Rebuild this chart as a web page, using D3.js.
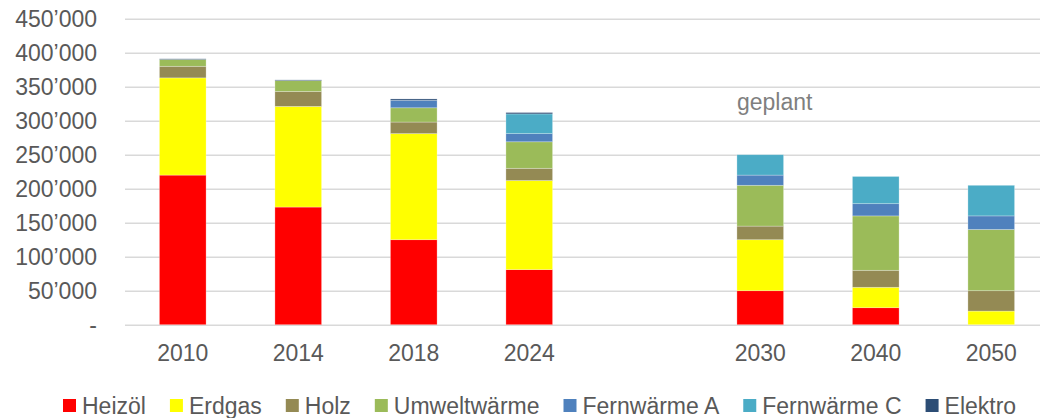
<!DOCTYPE html>
<html>
<head>
<meta charset="utf-8">
<script src="https://cdn.jsdelivr.net/npm/d3@7"></script>
<style>
  body { margin: 0; background: #fff; }
  svg { font-family: "Liberation Sans", Arial, sans-serif; }
  .ejes text { fill: #595959; font-size: 23px; }
  .ejes line { stroke: #d9d9d9; stroke-width: 1.5; }
  .ejes path { display: none; }
</style>
</head>
<body>
<div id="graf"></div>
<script>
const anchoTotal = 1040
const altoTotal = 418

// Data
const jahre = ["2010", "2014", "2018", "2024", "2030", "2040", "2050"]
const serien = ["Heizöl", "Erdgas", "Holz", "Umweltwärme", "Fernwärme A", "Fernwärme C", "Elektro"]
const farben = ["#ff0000", "#ffff00", "#948a54", "#9bbb59", "#4f81bd", "#4bacc6", "#2c4d75"]
const heizoel = [220000, 173000, 125000, 81000, 50000, 25000, 0]
const erdgas = [143000, 148000, 156000, 131000, 75000, 30000, 20000]
const holz = [17000, 22000, 17000, 18000, 20000, 25000, 30000]
const umweltwaerme = [10000, 16000, 21000, 39000, 60000, 80000, 90000]
const fernwaermeA = [0, 0, 11000, 12000, 15000, 18000, 20000]
const fernwaermeC = [0, 0, 0, 29000, 30000, 40000, 45000]
const elektro = [1000, 1000, 2000, 2000, 0, 0, 0]
const yTicks = [0, 50000, 100000, 150000, 200000, 250000, 300000, 350000, 400000, 450000]

const werte = [heizoel, erdgas, holz, umweltwaerme, fernwaermeA, fernwaermeC, elektro]
const data = jahre.map((j, i) => {
  const row = { jahr: j }
  serien.forEach((s, k) => (row[s] = werte[k][i]))
  return row
})

// leere Kategorie zwischen 2024 und 2030
const domain = [...jahre.slice(0, 4), "gap", ...jahre.slice(4)]

const margins = { left: 125, right: 1049, top: 18.7, bottom: 324.7 }

const svg = d3
  .select("#graf")
  .append("svg")
  .attr("width", anchoTotal)
  .attr("height", altoTotal)

const x = d3
  .scaleBand()
  .domain(domain)
  .range([margins.left, margins.right])
  .paddingInner(0.596)
  .paddingOuter(0.298)

const y = d3.scaleLinear().domain([0, 450000]).range([margins.bottom, margins.top])

const locale = d3.formatLocale({ decimal: ".", thousands: "\u2019", grouping: [3], currency: ["", ""] })
const fmt = locale.format(",")

// Ejes
const yAxis = d3
  .axisLeft(y)
  .tickValues(yTicks)
  .tickSize(-(anchoTotal - margins.left))
  .tickPadding(28)
  .tickFormat((d) => (d === 0 ? "-" : fmt(d)))

svg
  .append("g")
  .attr("class", "ejes")
  .attr("transform", `translate(${margins.left}, 0)`)
  .call(yAxis)
  .selectAll("text")
  .attr("dy", "0.35em")

const xAxis = d3
  .axisBottom(x)
  .tickSize(0)
  .tickPadding(20)
  .tickFormat((d) => (d === "gap" ? "" : d))

svg
  .append("g")
  .attr("class", "ejes")
  .attr("transform", `translate(0, ${margins.bottom})`)
  .call(xAxis)

// Stack
const stack = d3.stack().keys(serien)(data)

svg
  .append("g")
  .selectAll("g")
  .data(stack)
  .join("g")
  .attr("fill", (d, i) => farben[i])
  .selectAll("rect")
  .data((d) => d)
  .join("rect")
  .attr("x", (d) => x(d.data.jahr))
  .attr("y", (d) => y(d[1]))
  .attr("width", x.bandwidth())
  .attr("height", (d) => y(d[0]) - y(d[1]))
  .attr("stroke", "#fff")
  .attr("stroke-opacity", 0.35)
  .attr("stroke-width", 0.75)

// Beschriftung
svg
  .append("text")
  .attr("x", x("2030"))
  .attr("y", 109.5)
  .attr("fill", "#7f7f7f")
  .attr("font-size", 23)
  .text("geplant")

// Legende
const legende = svg.append("g")
let lx = 63
serien.forEach((s, i) => {
  legende
    .append("rect")
    .attr("x", lx)
    .attr("y", 399)
    .attr("width", 13)
    .attr("height", 13)
    .attr("fill", farben[i])
  const t = legende
    .append("text")
    .attr("x", lx + 19)
    .attr("y", 414)
    .attr("fill", "#595959")
    .attr("font-size", 23)
    .text(s)
  lx += 19 + t.node().getComputedTextLength() + 24
})
</script>
</body>
</html>
